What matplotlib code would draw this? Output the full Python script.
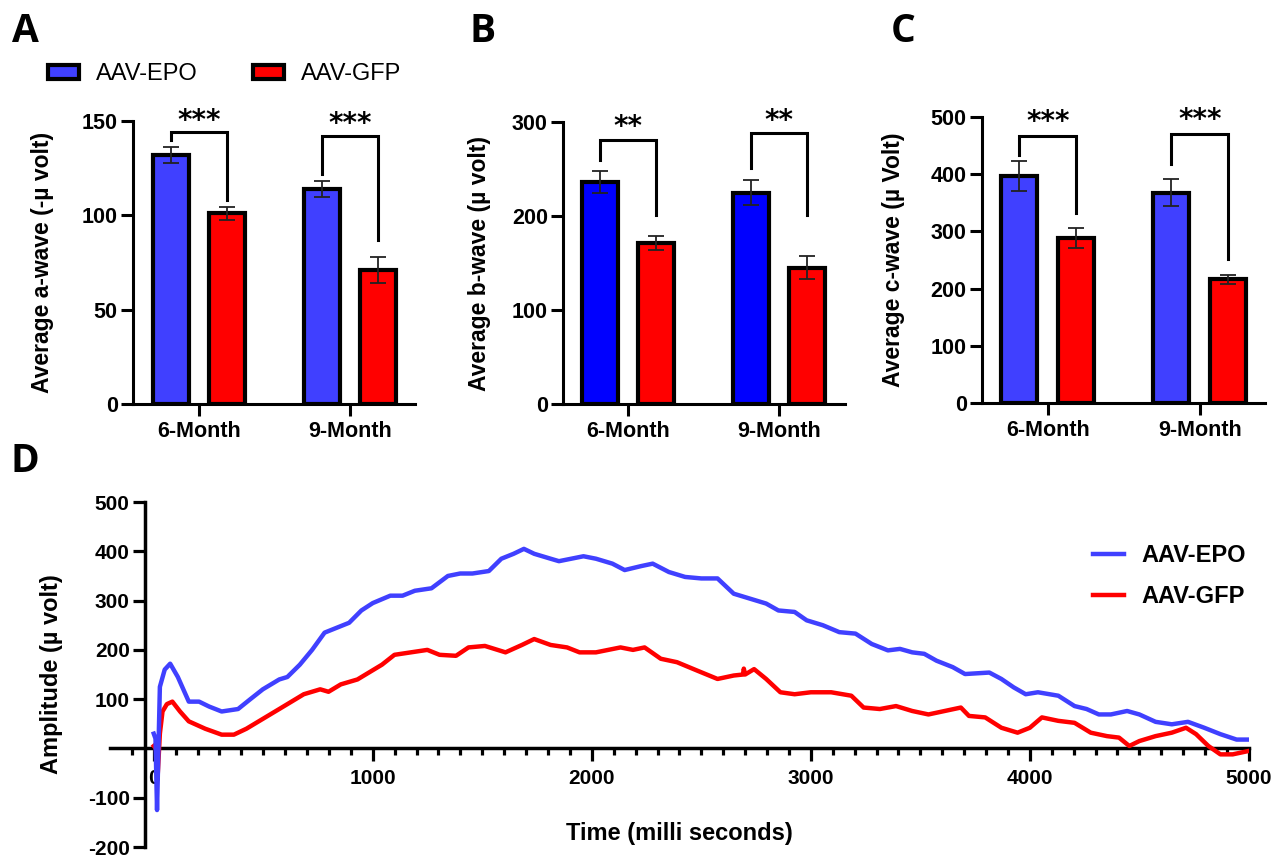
import matplotlib
matplotlib.use('Agg')
import matplotlib.pyplot as plt
import numpy as np

plt.rcParams['font.family'] = ['Liberation Sans', 'DejaVu Sans']
plt.rcParams['axes.unicode_minus'] = False

# ---- bar data (A, B, C) ----
groups = ['6-Month', '9-Month']
groups_pos = [0, 1]

a_epo = [132, 114]
a_epo_err = [4, 4]
a_gfp = [101, 71]
a_gfp_err = [3.5, 7]

b_epo = [236, 225]
b_epo_err = [11.5, 13.5]
b_gfp = [171, 145]
b_gfp_err = [7.5, 12]

c_epo = [397, 368]
c_epo_err = [26, 24]
c_gfp = [288, 216]
c_gfp_err = [17.5, 8]

# significance brackets: (left leg bottom, top, right leg bottom, stars y)
a_sig = [(140, 144, 108, 150), (122, 142, 87, 148.5)]
b_sig = [(260, 281, 201, 295), (251, 288, 201, 301)]
c_sig = [(434, 467, 332, 492), (418, 470, 252, 494)]
a_stars = ['***', '***']
b_stars = ['**', '**']
c_stars = ['***', '***']

# ---- trace data (D) ----
t_epo = [0, 8, 15, 28, 50, 75, 110, 160, 207, 253, 310, 385, 441, 498, 573, 610, 667,
         723, 780, 836, 892, 948, 1000, 1080, 1136, 1192, 1268, 1343, 1399, 1455, 1530,
         1587, 1643, 1690, 1737, 1812, 1850, 1962, 2019, 2094, 2150, 2225, 2278, 2352,
         2426, 2500, 2574, 2648, 2722, 2796, 2852, 2926, 2981, 3055, 3130, 3204, 3278,
         3352, 3407, 3463, 3518, 3574, 3648, 3704, 3815, 3870, 3926, 3981, 4037, 4130,
         4204, 4259, 4315, 4370, 4444, 4500, 4574, 4648, 4722, 4796, 4870, 4944, 5000]
v_epo = [30, 20, -125, 125, 160, 172, 145, 95, 95, 85, 75, 80, 100, 120, 140, 145, 170,
         200, 235, 245, 255, 280, 295, 310, 310, 320, 325, 350, 355, 355, 360,
         385, 395, 405, 395, 385, 380, 390, 385, 375, 362, 370, 375, 358,
         348, 345, 345, 314, 304, 294, 280, 277, 260, 250, 236, 233, 212,
         199, 202, 195, 192, 178, 165, 151, 154, 141, 124, 110, 114, 107,
         86, 80, 69, 69, 76, 69, 54, 49, 54, 42, 29, 18, 18]

t_gfp = [0, 10, 18, 28, 40, 60, 85, 120, 160, 235, 310, 366, 423, 498, 573, 629, 685,
         760, 798, 854, 930, 986, 1042, 1099, 1174, 1249, 1305, 1380, 1437, 1512, 1606,
         1681, 1737, 1812, 1887, 1944, 2019, 2131, 2188, 2241, 2315, 2389, 2481, 2574,
         2648, 2690, 2694, 2700, 2741, 2796, 2861, 2926, 3000, 3093, 3185, 3241, 3315,
         3389, 3463, 3537, 3611, 3685, 3722, 3796, 3870, 3944, 4000, 4055, 4130, 4204,
         4278, 4352, 4407, 4454, 4500, 4574, 4648, 4713, 4759, 4815, 4870, 4926, 5000]
v_gfp = [5, 0, -55, 30, 75, 90, 95, 75, 55, 40, 28, 28, 40, 60, 80, 95, 110,
         120, 115, 130, 140, 155, 170, 190, 195, 200, 190, 188, 205, 208, 195,
         210, 222, 210, 205, 195, 195, 205, 200, 205, 182, 175, 158, 141,
         148, 150, 162, 150, 161, 141, 114, 110, 114, 114, 107, 83, 80,
         86, 76, 69, 76, 83, 66, 63, 42, 32, 42, 63, 56, 52,
         32, 25, 22, 5, 15, 25, 32, 42, 29, 5, -12, -12, -5]

blue = '#4040ff'
blue_b = '#0000ff'
red = '#ff0000'

fig = plt.figure(figsize=(12.71, 8.56), dpi=100)

off = 0.188
bw = 0.238


def bar_panel(rect, epo, epo_err, gfp, gfp_err, epo_color, ymax, ystep, ylabel, sig, stars, xlim):
    ax = fig.add_axes(rect)
    x = np.array(groups_pos)
    b1 = ax.bar(x - off, epo, bw, color=epo_color, edgecolor='black', linewidth=3, zorder=2)
    b2 = ax.bar(x + off, gfp, bw, color=red, edgecolor='black', linewidth=3, zorder=2)
    ax.errorbar(x - off, epo, yerr=epo_err, fmt='none', ecolor='#222222', elinewidth=1.3,
                capsize=6, capthick=1.3, zorder=4)
    ax.errorbar(x + off, gfp, yerr=gfp_err, fmt='none', ecolor='#222222', elinewidth=1.3,
                capsize=6, capthick=1.3, zorder=4)
    for i, (lb, top, rb, sy) in enumerate(sig):
        ax.plot([i - off, i - off, i + off, i + off], [lb, top, top, rb], color='black',
                lw=2.2, clip_on=False, solid_joinstyle='miter', zorder=5)
        ax.text(i, sy, stars[i], ha='center', va='center', fontsize=20, fontweight='bold',
                family=['DejaVu Sans'], clip_on=False)
    ax.set_xlim(*xlim)
    ax.set_ylim(0, ymax)
    ax.set_yticks(np.arange(0, ymax + 1, ystep))
    ax.set_xticks(groups_pos)
    ax.set_xticklabels(groups)
    for s in ['top', 'right']:
        ax.spines[s].set_visible(False)
    for s in ['left', 'bottom']:
        ax.spines[s].set_linewidth(2.2)
    ax.tick_params(axis='both', width=2.2, labelsize=15.5)
    ax.tick_params(axis='y', length=9, pad=2)
    ax.tick_params(axis='x', length=8.5, pad=4)
    for lab in ax.get_xticklabels() + ax.get_yticklabels():
        lab.set_fontweight('bold')
    ax.set_ylabel(ylabel, fontsize=16.5, fontweight='bold')
    return ax, b1, b2


axA, hA1, hA2 = bar_panel([0.1046, 0.5280, 0.2219, 0.3306], a_epo, a_epo_err, a_gfp, a_gfp_err,
                          blue, 150, 50, 'Average a-wave (-\u00b5 volt)', a_sig, a_stars,
                          (-0.437, 1.43))
axB, _, _ = bar_panel([0.4430, 0.5280, 0.2219, 0.3294], b_epo, b_epo_err, b_gfp, b_gfp_err,
                      blue_b, 300, 100, 'Average b-wave (\u00b5 volt)', b_sig, b_stars,
                      (-0.43, 1.437))
axC, _, _ = bar_panel([0.7726, 0.5292, 0.2227, 0.3341], c_epo, c_epo_err, c_gfp, c_gfp_err,
                      blue, 500, 100, 'Average c-wave (\u00b5 Volt)', c_sig, c_stars,
                      (-0.434, 1.43))
for ax, xc in [(axA, -0.319), (axB, -0.298), (axC, -0.311)]:
    ax.yaxis.set_label_coords(xc, 0.5)
    ax.yaxis.label.set_va('center')

fig.legend([hA1, hA2], ['AAV-EPO', 'AAV-GFP'], loc='center left',
           bbox_to_anchor=(48 / 1271, 1 - 74 / 856), ncol=2, frameon=False, fontsize=17,
           handlelength=1.31, handleheight=0.55, handletextpad=0.72, columnspacing=2.33,
           borderpad=0, borderaxespad=0)

# ---- panel D ----
axD = fig.add_axes([0.0865, 0.0105, 0.8961, 0.4030])
axD.plot(t_gfp, v_gfp, color=red, lw=3.2, label='AAV-GFP', zorder=3)
axD.plot(t_epo, v_epo, color=blue, lw=3.2, label='AAV-EPO', zorder=3.1)
axD.set_xlim(-200, 5000)
axD.set_ylim(-200, 500)
axD.spines['left'].set_position(('data', -40))
axD.spines['bottom'].set_position(('data', 0))
for s in ['top', 'right']:
    axD.spines[s].set_visible(False)
for s in ['left', 'bottom']:
    axD.spines[s].set_linewidth(2.5)
axD.set_xticks([0, 1000, 2000, 3000, 4000, 5000])
axD.set_xticks(np.arange(-100, 5000, 100), minor=True)
axD.set_yticks([-200, -100, 100, 200, 300, 400, 500])
axD.tick_params(axis='both', width=2.3, labelsize=15)
axD.tick_params(axis='x', which='major', length=9, pad=6)
axD.tick_params(axis='x', which='minor', length=5, width=2.3)
axD.tick_params(axis='y', length=9, pad=2)
for lab in axD.get_xticklabels() + axD.get_yticklabels():
    lab.set_fontweight('bold')
axD.set_xlabel('Time (milli seconds)', fontsize=17, fontweight='bold')
axD.xaxis.set_label_coords(0.5, 0.04)
axD.xaxis.label.set_va('center')
axD.set_ylabel('Amplitude (\u00b5 volt)', fontsize=17, fontweight='bold')
axD.yaxis.set_label_coords(-0.051, 0.5)
axD.yaxis.label.set_va('center')
h, l = axD.get_legend_handles_labels()
axD.legend(h[::-1], l[::-1], loc='upper left', bbox_to_anchor=(1093 / 1271, 1 - 544 / 856),
           bbox_transform=fig.transFigure, frameon=False,
           prop={'size': 17, 'weight': 'bold'}, handlelength=1.31, handletextpad=0.72,
           labelspacing=0.78, borderpad=0, borderaxespad=0)

# panel letters
for letter, x, y in [('A', 25, 32), ('B', 483, 32), ('C', 903, 32), ('D', 25, 462)]:
    fig.text(x / 1271, 1 - y / 856, letter, fontsize=28, fontweight='bold',
             ha='center', va='center', family=['Open Sans', 'DejaVu Sans'])

fig.savefig('out.png', dpi=100)
